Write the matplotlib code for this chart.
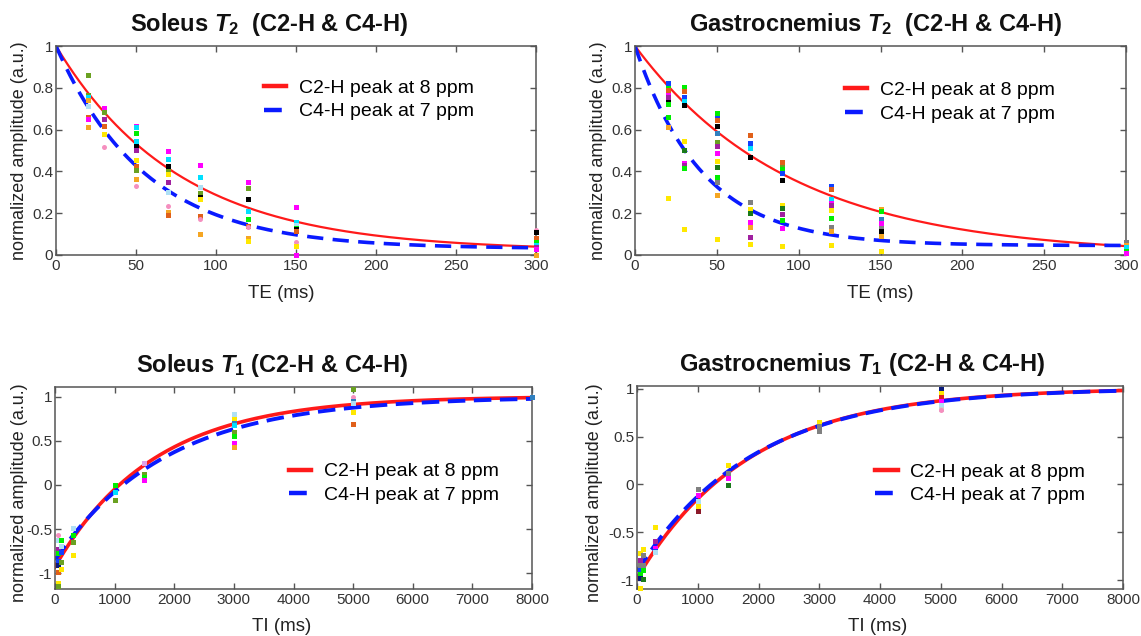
import numpy as np
import matplotlib
matplotlib.use('Agg')
import matplotlib.pyplot as plt
from matplotlib.lines import Line2D

plt.rcParams['font.family'] = ['Liberation Sans', 'DejaVu Sans']
plt.rcParams['mathtext.fontset'] = 'custom'
plt.rcParams['mathtext.rm'] = 'Liberation Sans:bold'
plt.rcParams['mathtext.it'] = 'Liberation Sans:italic:bold'
plt.rcParams['mathtext.bf'] = 'Liberation Sans:bold'

# ---------------- colour codes for individual subjects ----------------
PAL = {'mg': '#ff00ff', 'cy': '#00e0ff', 'gr': '#00ee00', 'ol': '#6aa121',
       'bk': '#000000', 'ye': '#ffe800', 'or': '#f5a623', 'orr': '#e0601a',
       'pk': '#f58fbf', 'lb': '#aee0f5', 'pu': '#a020a0', 'bl': '#1040ff',
       'sb': '#3080c0', 'gy': '#808080', 'dg': '#1a7a1a', 'mr': '#8b1a2a',
       'db': '#0a1a7a', 'rd': '#e02020', 'lg': '#d0d0d0', 'li': '#e0a0e8'}

# ---------------- Soleus T2 ----------------
sol_t2_te = [20, 30, 50, 70, 90, 120, 150, 300]
sol_t2_vals = [
    [0.86, 0.766, 0.758, 0.742, 0.714, 0.659, 0.649, 0.614],
    [0.702, 0.686, 0.649, 0.617, 0.577, 0.515],
    [0.619, 0.614, 0.585, 0.547, 0.522, 0.502, 0.455, 0.426, 0.407, 0.362, 0.332],
    [0.499, 0.458, 0.427, 0.404, 0.386, 0.348, 0.301, 0.236, 0.206, 0.190],
    [0.432, 0.373, 0.327, 0.295, 0.276, 0.266, 0.188, 0.174, 0.102],
    [0.351, 0.319, 0.268, 0.211, 0.171, 0.138, 0.133, 0.083, 0.066],
    [0.228, 0.160, 0.144, 0.13, 0.123, 0.117, 0.061, 0.045, 0.0],
    [0.12, 0.11, 0.08, 0.06, 0.05, 0.04, 0.03, 0.0],
]
sol_t2_cols = [
    ['ol', 'ol', 'cy', 'or', 'lb', 'orr', 'mg', 'or'],
    ['mg', 'ol', 'pu', 'orr', 'ye', 'pk'],
    ['mg', 'cy', 'gr', 'cy', 'bk', 'pu', 'ye', 'orr', 'ol', 'or', 'pk'],
    ['mg', 'cy', 'bk', 'ol', 'ye', 'pu', 'lb', 'pk', 'or', 'orr'],
    ['mg', 'cy', 'lb', 'ol', 'bk', 'ye', 'orr', 'pk', 'or'],
    ['mg', 'ol', 'bk', 'cy', 'gr', 'orr', 'pk', 'or', 'ye'],
    ['mg', 'cy', 'lb', 'gr', 'bk', 'orr', 'pk', 'ye', 'mg'],
    ['pk', 'bk', 'orr', 'gr', 'cy', 'pu', 'mg', 'or'],
]
# fit parameters: amplitude, T2 (ms), offset
sol_t2_fit_c2 = [0.98, 77.0, 0.02]
sol_t2_fit_c4 = [0.97, 56.0, 0.03]

# ---------------- Gastrocnemius T2 ----------------
gas_t2_te = [20, 30, 50, 70, 90, 120, 150, 300]
gas_t2_vals = [
    [0.825, 0.80, 0.789, 0.766, 0.755, 0.73, 0.721, 0.662, 0.611, 0.271],
    [0.805, 0.786, 0.754, 0.738, 0.718, 0.547, 0.502, 0.442, 0.43, 0.415, 0.124],
    [0.681, 0.654, 0.646, 0.617, 0.582, 0.542, 0.522, 0.487, 0.45, 0.423, 0.375, 0.351, 0.287, 0.077],
    [0.574, 0.534, 0.51, 0.47, 0.254, 0.219, 0.2, 0.159, 0.133, 0.088, 0.053],
    [0.445, 0.423, 0.41, 0.391, 0.359, 0.241, 0.223, 0.196, 0.167, 0.131, 0.043],
    [0.332, 0.314, 0.266, 0.25, 0.24, 0.215, 0.178, 0.135, 0.116, 0.049],
    [0.222, 0.21, 0.172, 0.155, 0.128, 0.115, 0.092, 0.021],
    [0.06, 0.05, 0.04, 0.02, 0.01],
]
gas_t2_cols = [
    ['bl', 'gr', 'orr', 'mg', 'pu', 'bk', 'gr', 'gr', 'or', 'ye'],
    ['gr', 'orr', 'bl', 'cy', 'bk', 'ye', 'dg', 'mg', 'pu', 'gr', 'ye'],
    ['gr', 'bl', 'orr', 'bk', 'sb', 'ol', 'pu', 'mg', 'ye', 'dg', 'gr', 'gy', 'or', 'ye'],
    ['orr', 'bl', 'cy', 'bk', 'gy', 'ye', 'dg', 'mg', 'or', 'pu', 'ye'],
    ['orr', 'ol', 'gr', 'bl', 'bk', 'ye', 'dg', 'pu', 'gr', 'mg', 'ye'],
    ['bl', 'orr', 'cy', 'mg', 'pu', 'ye', 'gr', 'gy', 'or', 'ye'],
    ['or', 'gr', 'sb', 'mg', 'gy', 'bk', 'or', 'ye'],
    ['gy', 'or', 'cy', 'gr', 'mg'],
]
gas_t2_fit_c2 = [1.0, 95.0, 0.0]
gas_t2_fit_c4 = [0.955, 41.0, 0.045]

# ---------------- Soleus T1 ----------------
sol_t1_ti = [50, 100, 300, 1000, 1500, 3000, 5000, 8000]
sol_t1_vals = [
    [-0.566, -0.62, -0.725, -0.77, -0.857, -0.906, -0.982, -1.11, -1.147],
    [-0.624, -0.695, -0.76, -0.868, -0.951],
    [-0.49, -0.563, -0.65, -0.793],
    [0.0, -0.083, -0.166],
    [0.249, 0.12, 0.095, 0.06],
    [0.80, 0.748, 0.70, 0.68, 0.60, 0.55, 0.478, 0.434],
    [1.088, 1.0, 0.946, 0.93, 0.826, 0.695],
    [1.0],
]
sol_t1_cols = [
    ['pk', 'lb', 'pu', 'gr', 'bl', 'db', 'orr', 'ye', 'ol'],
    ['gr', 'lb', 'bl', 'ol', 'ye'],
    ['lb', 'gr', 'ol', 'ye'],
    ['gr', 'cy', 'ol'],
    ['li', 'ol', 'gr', 'mg'],
    ['lb', 'ye', 'sb', 'cy', 'ol', 'gr', 'mg', 'or'],
    ['ol', 'pk', 'sb', 'lb', 'ye', 'orr'],
    ['sb'],
]
# fit parameters: M0, inversion factor, T1 (ms)
sol_t1_fit_c2 = [1.005, 1.93, 1650.0]
sol_t1_fit_c4 = [1.0, 1.85, 1850.0]

# ---------------- Gastrocnemius T1 ----------------
gas_t1_ti = [50, 100, 300, 1000, 1500, 3000, 5000]
gas_t1_vals = [
    [-0.715, -0.795, -0.838, -0.89, -0.942, -0.977, -1.082],
    [-0.674, -0.74, -0.838, -0.89, -0.988],
    [-0.443, -0.593, -0.663, -0.70, -0.705],
    [-0.052, -0.111, -0.175, -0.22, -0.279],
    [0.203, 0.122, 0.07, -0.01],
    [0.657, 0.612, 0.56],
    [1.0, 0.953, 0.918, 0.873, 0.828, 0.79, 0.78],
]
gas_t1_cols = [
    ['ye', 'pu', 'gy', 'bl', 'gr', 'db', 'ye'],
    ['ye', 'gy', 'gy', 'gr', 'dg'],
    ['ye', 'pu', 'mg', 'bl', 'lb'],
    ['gy', 'mg', 'lb', 'ye', 'mr'],
    ['ye', 'gy', 'mg', 'dg'],
    ['ye', 'gy', 'gy'],
    ['db', 'ye', 'rd', 'mg', 'lb', 'lg', 'pk'],
]
gas_t1_fit_c2 = [1.01, 1.99, 1850.0]
gas_t1_fit_c4 = [1.01, 1.92, 1900.0]

legend_labels = ['C2-H peak at 8 ppm', 'C4-H peak at 7 ppm']

# ---------------- figure ----------------
W, H = 1141, 636
fig = plt.figure(figsize=(W / 100, H / 100), dpi=100)


def px_axes(l, t, r, b):
    return fig.add_axes([l / W, 1 - b / H, (r - l) / W, (b - t) / H])


TXT = '#222222'


def style(ax):
    for s in ax.spines.values():
        s.set_color('#555555')
        s.set_linewidth(1.1)
    ax.tick_params(direction='in', top=True, right=True, length=4, width=1,
                   color='#555555', labelsize=11, labelcolor='#333333', pad=3)
    ax.tick_params(axis='y', pad=2)


def scatter_points(ax, xs, vals, cols):
    for x, vs, cs in zip(xs, vals, cols):
        for v, c in zip(vs, cs):
            mk = 'o' if c == 'pk' else 's'
            ax.plot([x], [v], linestyle='none', marker=mk, markersize=3.6,
                    color=PAL[c], markeredgewidth=0, zorder=3, clip_on=False)


def t2_curve(t, p):
    return p[0] * np.exp(-t / p[1]) + p[2]


def t1_curve(t, p):
    return p[0] - p[1] * np.exp(-t / p[2])


def add_legend(ax, x, y):
    handles = [Line2D([], [], color='#ff1a1a', lw=3.2),
               Line2D([], [], color='#0a1aff', lw=3.2, dashes=(4.0, 2.2))]
    ax.legend(handles, legend_labels, loc='upper left', bbox_to_anchor=(x, y),
              frameon=False, fontsize=14, handlelength=1.15, handletextpad=0.65,
              borderpad=0, borderaxespad=0, labelspacing=0.3)


def ylab(ax, x, y=0.5):
    ax.set_ylabel('normalized amplitude (a.u.)', fontsize=13, color=TXT)
    ax.yaxis.set_label_coords(x, y)


TITLE_KW = dict(fontsize=17, fontweight='bold', color='#111111', pad=11)

# --- Soleus T2 ---
ax1 = px_axes(56, 46, 536, 255)
t = np.linspace(0, 300, 400)
ax1.plot(t, t2_curve(t, sol_t2_fit_c2), color='#ff1a1a', lw=1.6, zorder=2)
ax1.plot(t, t2_curve(t, sol_t2_fit_c4), color='#0a1aff', lw=2.6, dashes=(4.5, 2.6), zorder=2)
scatter_points(ax1, sol_t2_te, sol_t2_vals, sol_t2_cols)
ax1.set_xlim(0, 300)
ax1.set_ylim(0, 1)
ax1.set_xticks(np.arange(0, 301, 50))
ax1.set_yticks([0, 0.2, 0.4, 0.6, 0.8, 1])
ax1.set_yticklabels(['0', '0.2', '0.4', '0.6', '0.8', '1'])
style(ax1)
ax1.set_title(r'Soleus $T_2$  (C2-H & C4-H)', x=0.445, **TITLE_KW)
ax1.set_xlabel('TE (ms)', fontsize=13.5, color=TXT)
ax1.xaxis.set_label_coords(0.47, -0.145)
ylab(ax1, -0.058)
add_legend(ax1, 0.433, 0.84)

# --- Gastrocnemius T2 ---
ax2 = px_axes(635, 46, 1126, 255)
ax2.plot(t, t2_curve(t, gas_t2_fit_c2), color='#ff1a1a', lw=1.6, zorder=2)
ax2.plot(t, t2_curve(t, gas_t2_fit_c4), color='#0a1aff', lw=2.6, dashes=(4.5, 2.6), zorder=2)
scatter_points(ax2, gas_t2_te, gas_t2_vals, gas_t2_cols)
ax2.set_xlim(0, 300)
ax2.set_ylim(0, 1)
ax2.set_xticks(np.arange(0, 301, 50))
ax2.set_yticks([0, 0.2, 0.4, 0.6, 0.8, 1])
ax2.set_yticklabels(['0', '0.2', '0.4', '0.6', '0.8', '1'])
style(ax2)
ax2.set_title(r'Gastrocnemius $T_2$  (C2-H & C4-H)', x=0.49, **TITLE_KW)
ax2.set_xlabel('TE (ms)', fontsize=13.5, color=TXT)
ax2.xaxis.set_label_coords(0.5, -0.145)
ylab(ax2, -0.057)
add_legend(ax2, 0.427, 0.83)

# --- Soleus T1 ---
ax3 = px_axes(55, 387, 532, 589)
ti = np.linspace(0, 8000, 400)
ax3.plot(ti, t1_curve(ti, sol_t1_fit_c2), color='#ff1a1a', lw=2.6, zorder=2)
ax3.plot(ti, t1_curve(ti, sol_t1_fit_c4), color='#0a1aff', lw=2.8, dashes=(4.5, 2.2), zorder=2)
scatter_points(ax3, sol_t1_ti, sol_t1_vals, sol_t1_cols)
ax3.set_xlim(0, 8000)
ax3.set_ylim(-1.178, 1.11)
ax3.set_xticks(np.arange(0, 8001, 1000))
ax3.set_yticks([-1, -0.5, 0, 0.5, 1])
ax3.set_yticklabels(['-1', '-0.5', '0', '0.5', '1'])
style(ax3)
ax3.set_title(r'Soleus $T_1$ (C2-H & C4-H)', x=0.455, **TITLE_KW)
ax3.set_xlabel('TI (ms)', fontsize=13.5, color=TXT)
ax3.xaxis.set_label_coords(0.476, -0.145)
ylab(ax3, -0.056, 0.475)
add_legend(ax3, 0.49, 0.625)

# --- Gastrocnemius T1 ---
ax4 = px_axes(637, 386, 1123, 589)
ax4.plot(ti, t1_curve(ti, gas_t1_fit_c2), color='#ff1a1a', lw=2.6, zorder=2)
ax4.plot(ti, t1_curve(ti, gas_t1_fit_c4), color='#0a1aff', lw=2.8, dashes=(4.5, 2.2), zorder=2)
scatter_points(ax4, gas_t1_ti, gas_t1_vals, gas_t1_cols)
ax4.set_xlim(0, 8000)
ax4.set_ylim(-1.094, 1.031)
ax4.set_xticks(np.arange(0, 8001, 1000))
ax4.set_yticks([-1, -0.5, 0, 0.5, 1])
ax4.set_yticklabels(['-1', '-0.5', '0', '0.5', '1'])
style(ax4)
ax4.set_title(r'Gastrocnemius $T_1$ (C2-H & C4-H)', x=0.463, **TITLE_KW)
ax4.set_xlabel('TI (ms)', fontsize=13.5, color=TXT)
ax4.xaxis.set_label_coords(0.495, -0.145)
ylab(ax4, -0.07, 0.475)
add_legend(ax4, 0.49, 0.62)

fig.savefig('out.png', dpi=100, facecolor='white')
